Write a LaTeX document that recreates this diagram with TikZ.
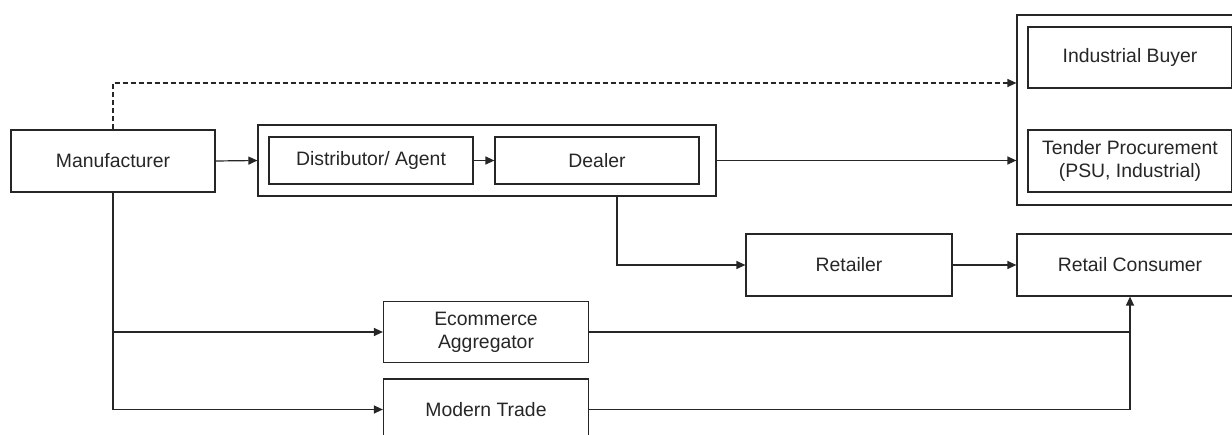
\documentclass[tikz,border=0pt]{standalone}
\usepackage{fontspec}
\setmainfont{Liberation Sans}
\usetikzlibrary{arrows.meta,positioning}
\tikzset{
  box/.style={draw=black!85, line width=1.2pt, minimum width=#1, inner sep=0pt, align=center, font=\fontsize{19.4}{23.3}\selectfont, text=black!85},
  arr/.style={draw=black!85, line width=1.2pt, -{Triangle[length=9pt,width=8pt]}},
  ln/.style={draw=black!85, line width=1.2pt}
}
\begin{document}
\begin{tikzpicture}[x=1pt,y=-1pt]
\useasboundingbox (0,0) rectangle (1232,435);
\clip (0,0) rectangle (1232,435);
\node[box=204pt, minimum height=62pt] (man) at (113,161) {Manufacturer};
\node[box=458pt, minimum height=71pt] (grp) at (487,160.5) {};
\node[box=204pt, minimum height=47pt] (dist) at (371,160.5) {Distributor/ Agent};
\node[box=204pt, minimum height=47pt] (deal) at (597,160.5) {Dealer};
\node[box=226pt, minimum height=190pt] (rbox) at (1130,110) {};
\node[box=204pt, minimum height=61pt] (ib) at (1130,57.5) {Industrial Buyer};
\node[box=204pt, minimum height=62pt] (tp) at (1130,161) {Tender Procurement\\(PSU, Industrial)};
\node[box=206pt, minimum height=62pt] (ret) at (849,265) {Retailer};
\node[box=226pt, minimum height=62pt] (rc) at (1130,265) {Retail Consumer};
\node[box=205pt, minimum height=61pt] (ec) at (486,332) {Ecommerce\\Aggregator};
\node[box=205pt, minimum height=61pt] (mt) at (486,409.5) {Modern Trade};
% connectors
\draw[arr, dashed, dash pattern=on 5pt off 3pt] (man.north) |- ([yshift=27pt]rbox.west);
\draw[arr] (man.east) -- (grp.west);
\draw[arr] (dist.east) -- (deal.west);
\draw[arr] (grp.east) -- (grp.east -| rbox.west);
\draw[arr] ([xshift=20pt]deal.south |- grp.south) |- (ret.west);
\draw[arr] (ret.east) -- (rc.west);
\draw[arr] (man.south) |- (mt.west);
\draw[arr] (man.south |- ec.west) -- (ec.west);
\draw[arr] (ec.east) -| (rc.south);
\draw[ln] (mt.east) -| (rc.south |- ec.east);
\end{tikzpicture}
\end{document}
